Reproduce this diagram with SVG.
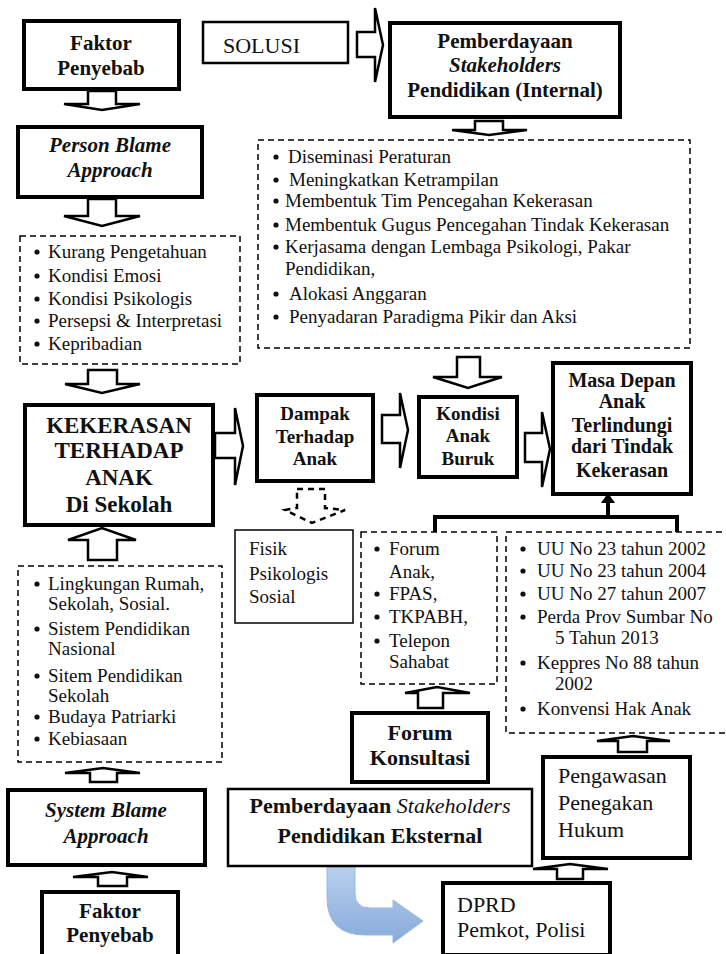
<svg xmlns="http://www.w3.org/2000/svg" width="726" height="954" viewBox="0 0 726 954">
<defs>
<style>
text{font-family:"Liberation Serif","Times New Roman",serif;fill:#111}
.box{fill:#fff;stroke:#000;stroke-width:4}
.mid{fill:#fff;stroke:#000;stroke-width:2.5}
.thin{fill:#fff;stroke:#000;stroke-width:1.5}
.dash{fill:#fff;stroke:#000;stroke-width:1.5;stroke-dasharray:6 4}
.arr{fill:#fff;stroke:#000;stroke-width:2.5}
.darr{fill:#fff;stroke:#000;stroke-width:2.5;stroke-dasharray:6 5}
.b{font-weight:bold}
.i{font-style:italic}
.m{text-anchor:middle}
.r19{font-size:19px}
.bul{fill:#111}
</style>
<linearGradient id="blue" x1="0" y1="0" x2="0" y2="1">
<stop offset="0" stop-color="#b9cfec"/>
<stop offset="1" stop-color="#86abdb"/>
</linearGradient>
</defs>
<rect width="726" height="954" fill="#fff"/>

<g id="connectors">
<polygon class="arr" points="88,91 116,91 116,104 140,104 102,110 64,104 88,104"/>
<polygon class="arr" points="88,199 116,199 116,216 140,216 102,226 64,216 88,216"/>
<polygon class="arr" points="88,370 117,370 117,384 140,384 102,393 65,384 88,384"/>
<polygon class="arr" points="475,121 503,121 503,130 527,130 489,135 452,130 475,130"/>
<polygon class="arr" points="457,357 480,357 480,377 502,377 468,388 433,377 457,377"/>
<polygon class="darr" points="297,489 325,489 325,508 345,510 312,523 285,510 297,508"/>
<polygon class="arr" points="357,32 375,32 375,8 383,45 375,82 375,57 357,57"/>
<polygon class="arr" points="215,433 235,433 235,408 243,446 235,485 235,458 215,458"/>
<polygon class="arr" points="382,415 400,415 400,393 408,430 400,468 400,443 382,443"/>
<polygon class="arr" points="525,433 542,433 542,412 550,449 542,487 542,462 525,462"/>
<polygon class="arr" points="88,560 117,560 117,540 136,540 102,528 68,540 88,540"/>
<polygon class="arr" points="90,782 117,782 117,773 140,773 103,768 65,773 90,773"/>
<polygon class="arr" points="98,886 127,886 127,877 148,877 112,872 73,877 98,877"/>
<polygon class="arr" points="418,708 443,708 443,693 470,693 437,687 405,693 418,693"/>
<polygon class="arr" points="618,752 647,752 647,741 670,741 633,736 597,741 618,741"/>
<polygon class="arr" points="557,879 583,879 583,869 608,869 570,864 533,869 557,869"/>
<path d="M435,533 V517 H677 V533 M608,517 V502" fill="none" stroke="#000" stroke-width="4"/>
<polygon points="601,503 615,503 608,493" fill="#000"/>
<path d="M327,867 L355,867 L355,893 Q355,908 370,908 L393,908 L393,900 L423,921 L393,943 L393,935 L365,935 Q327,935 327,897 Z" fill="url(#blue)" stroke="#9bb8de" stroke-width="1"/>
</g>

<g id="faktor-top">
<rect class="box" x="24" y="21" width="155" height="68"/>
<text class="b m" x="101" y="50" font-size="21">Faktor</text>
<text class="b m" x="101" y="75" font-size="21">Penyebab</text>
</g>

<g id="solusi">
<rect class="mid" x="203" y="22" width="145" height="41"/>
<text x="223" y="53" font-size="22">SOLUSI</text>
</g>

<g id="internal">
<rect class="box" x="390" y="23" width="230" height="94"/>
<text class="b m" x="505" y="48" font-size="21">Pemberdayaan</text>
<text class="b i m" x="505" y="72" font-size="21">Stakeholders</text>
<text class="b m" x="505" y="97" font-size="21">Pendidikan (Internal)</text>
</g>

<g id="internal-list">
<rect class="dash" x="258" y="140" width="432" height="208"/>
<g class="bul">
<circle cx="276" cy="157" r="2.6"/><circle cx="276" cy="180" r="2.6"/><circle cx="276" cy="201" r="2.6"/><circle cx="276" cy="225" r="2.6"/><circle cx="276" cy="247" r="2.6"/><circle cx="276" cy="294" r="2.6"/><circle cx="276" cy="317" r="2.6"/>
</g>
<text class="r19" x="288" y="163">Diseminasi Peraturan</text>
<text class="r19" x="289" y="186">Meningkatkan Ketrampilan</text>
<text class="r19" x="285" y="207">Membentuk Tim Pencegahan  Kekerasan</text>
<text class="r19" x="285" y="231">Membentuk Gugus Pencegahan Tindak Kekerasan</text>
<text class="r19" x="285" y="253">Kerjasama dengan Lembaga Psikologi, Pakar</text>
<text class="r19" x="285" y="275">Pendidikan,</text>
<text class="r19" x="289" y="300">Alokasi Anggaran</text>
<text class="r19" x="289" y="323">Penyadaran Paradigma Pikir dan Aksi</text>
</g>

<g id="person-blame">
<rect class="box" x="18" y="127" width="184" height="70"/>
<text class="b i m" x="110" y="152" font-size="21">Person Blame</text>
<text class="b i m" x="110" y="177" font-size="21">Approach</text>
</g>

<g id="person-list">
<rect class="dash" x="20" y="236" width="220" height="128"/>
<g class="bul">
<circle cx="37" cy="252" r="2.6"/><circle cx="37" cy="276" r="2.6"/><circle cx="37" cy="299" r="2.6"/><circle cx="37" cy="321" r="2.6"/><circle cx="37" cy="344" r="2.6"/>
</g>
<text class="r19" x="48" y="258">Kurang Pengetahuan</text>
<text class="r19" x="48" y="282">Kondisi Emosi</text>
<text class="r19" x="48" y="305">Kondisi Psikologis</text>
<text class="r19" x="48" y="327">Persepsi &amp; Interpretasi</text>
<text class="r19" x="48" y="350">Kepribadian</text>
</g>

<g id="kekerasan">
<rect class="box" x="25" y="405" width="188" height="120"/>
<text class="b m" x="119" y="433" font-size="23">KEKERASAN</text>
<text class="b m" x="119" y="458" font-size="23">TERHADAP</text>
<text class="b m" x="119" y="485" font-size="23">ANAK</text>
<text class="b m" x="119" y="512" font-size="23">Di Sekolah</text>
</g>

<g id="dampak">
<rect class="box" x="257" y="395" width="116" height="86"/>
<text class="b m r19" x="315" y="420">Dampak</text>
<text class="b m r19" x="315" y="443">Terhadap</text>
<text class="b m r19" x="315" y="465">Anak</text>
</g>

<g id="kondisi">
<rect class="box" x="419" y="397" width="98" height="80"/>
<text class="b m r19" x="468" y="420">Kondisi</text>
<text class="b m r19" x="468" y="442">Anak</text>
<text class="b m r19" x="468" y="465">Buruk</text>
</g>

<g id="masa-depan">
<rect class="box" x="553" y="363" width="138" height="131"/>
<text class="b m" x="622" y="387" font-size="20">Masa Depan</text>
<text class="b m" x="622" y="408" font-size="20">Anak</text>
<text class="b m" x="622" y="432" font-size="20">Terlindungi</text>
<text class="b m" x="622" y="453" font-size="20">dari Tindak</text>
<text class="b m" x="622" y="477" font-size="20">Kekerasan</text>
</g>

<g id="fisik">
<rect class="thin" x="235" y="530" width="118" height="93"/>
<text class="r19" x="249" y="555">Fisik</text>
<text class="r19" x="249" y="580">Psikologis</text>
<text class="r19" x="249" y="603">Sosial</text>
</g>

<g id="forum-list">
<rect class="dash" x="361" y="532" width="136" height="152"/>
<g class="bul">
<circle cx="377" cy="549" r="2.6"/><circle cx="377" cy="594" r="2.6"/><circle cx="377" cy="617" r="2.6"/><circle cx="377" cy="641" r="2.6"/>
</g>
<text class="r19" x="389" y="555">Forum</text>
<text class="r19" x="389" y="578">Anak,</text>
<text class="r19" x="389" y="600">FPAS,</text>
<text class="r19" x="389" y="623">TKPABH,</text>
<text class="r19" x="389" y="647">Telepon</text>
<text class="r19" x="389" y="668">Sahabat</text>
</g>

<g id="uu-list">
<rect class="dash" x="506" y="532" width="224" height="201"/>
<g class="bul">
<circle cx="523" cy="549" r="2.6"/><circle cx="523" cy="571" r="2.6"/><circle cx="523" cy="594" r="2.6"/><circle cx="523" cy="617" r="2.6"/><circle cx="523" cy="663" r="2.6"/><circle cx="523" cy="709" r="2.6"/>
</g>
<text class="r19" x="537" y="555">UU No 23 tahun 2002</text>
<text class="r19" x="537" y="577">UU No 23 tahun 2004</text>
<text class="r19" x="537" y="600">UU No 27 tahun 2007</text>
<text class="r19" x="537" y="623">Perda Prov Sumbar No</text>
<text class="r19" x="555" y="644">5 Tahun 2013</text>
<text class="r19" x="537" y="669">Keppres No 88 tahun</text>
<text class="r19" x="555" y="690">2002</text>
<text class="r19" x="537" y="715">Konvensi Hak Anak</text>
</g>

<g id="system-list">
<rect class="dash" x="18" y="566" width="204" height="196"/>
<g class="bul">
<circle cx="37" cy="584" r="2.6"/><circle cx="37" cy="629" r="2.6"/><circle cx="37" cy="676" r="2.6"/><circle cx="37" cy="717" r="2.6"/><circle cx="37" cy="739" r="2.6"/>
</g>
<text class="r19" x="48" y="590">Lingkungan Rumah,</text>
<text class="r19" x="48" y="610">Sekolah, Sosial.</text>
<text class="r19" x="48" y="635">Sistem Pendidikan</text>
<text class="r19" x="48" y="655">Nasional</text>
<text class="r19" x="48" y="682">Sitem Pendidikan</text>
<text class="r19" x="48" y="702">Sekolah</text>
<text class="r19" x="48" y="723">Budaya Patriarki</text>
<text class="r19" x="48" y="745">Kebiasaan</text>
</g>

<g id="forum-konsultasi">
<rect class="box" x="352" y="713" width="136" height="69"/>
<text class="b m" x="420" y="740" font-size="22">Forum</text>
<text class="b m" x="420" y="765" font-size="22">Konsultasi</text>
</g>

<g id="pengawasan">
<rect class="box" x="543" y="757" width="147" height="101"/>
<text x="558" y="783" font-size="22">Pengawasan</text>
<text x="558" y="810" font-size="22">Penegakan</text>
<text x="558" y="837" font-size="22">Hukum</text>
</g>

<g id="eksternal">
<rect class="mid" x="228" y="789" width="304" height="77"/>
<text class="m" x="380" y="813" font-size="22"><tspan class="b">Pemberdayaan </tspan><tspan class="i">Stakeholders</tspan></text>
<text class="b m" x="380" y="843" font-size="22">Pendidikan Eksternal</text>
</g>

<g id="system-blame">
<rect class="box" x="8" y="790" width="197" height="75"/>
<text class="b i m" x="106" y="817" font-size="21">System Blame</text>
<text class="b i m" x="106" y="843" font-size="21">Approach</text>
</g>

<g id="faktor-bottom">
<rect class="box" x="42" y="892" width="136" height="66"/>
<text class="b m" x="110" y="918" font-size="21">Faktor</text>
<text class="b m" x="110" y="942" font-size="21">Penyebab</text>
</g>

<g id="dprd">
<rect class="box" x="443" y="883" width="167" height="72"/>
<text x="457" y="912" font-size="22">DPRD</text>
<text x="457" y="937" font-size="22">Pemkot, Polisi</text>
</g>
</svg>
